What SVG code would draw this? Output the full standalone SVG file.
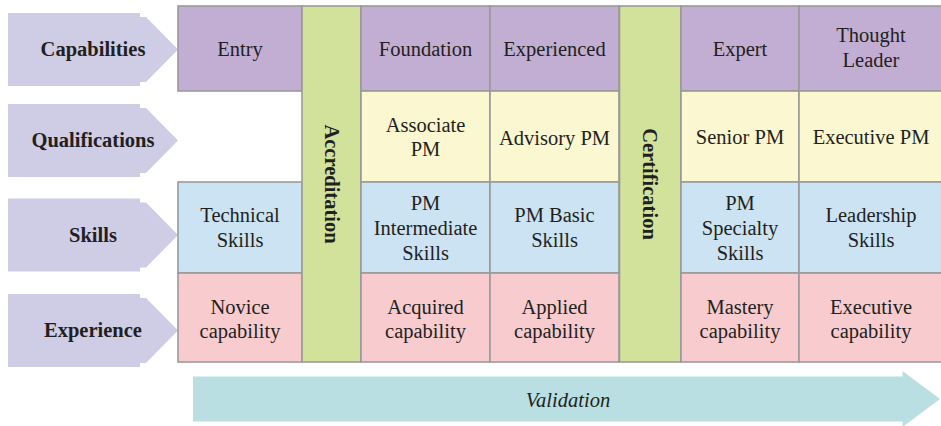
<svg xmlns="http://www.w3.org/2000/svg" width="941" height="426" viewBox="0 0 941 426">
<style>
.t{font-family:'Liberation Serif',Tinos,'Times New Roman',Times,'DejaVu Serif',serif;font-size:20.5px;fill:#231f20;text-anchor:middle}
.b{font-weight:bold}
.i{font-style:italic}
.cell{stroke:#9a9a9a;stroke-width:1.6}
.cap{fill:#c2aed3}
.qua{fill:#faf7d1}
.ski{fill:#cce3f3}
.exp{fill:#f8cccf}
.grn{fill:#d2e29b;stroke:#9a9a9a;stroke-width:1.6}
.arr{fill:#cfcce6}
</style>
<rect width="941" height="426" fill="#ffffff"/>
<defs>
<polygon id="la" points="0,0 132,0 132,4 138,4 170,36.5 138,69 132,69 132,73 0,73"/>
</defs>
<g id="row-labels">
<g id="label-capabilities"><use href="#la" x="8" y="13" class="arr"/><text class="t b" x="93" y="56">Capabilities</text></g>
<g id="label-qualifications"><use href="#la" x="8" y="104" class="arr"/><text class="t b" x="93" y="147">Qualifications</text></g>
<g id="label-skills"><use href="#la" x="8" y="198.5" class="arr"/><text class="t b" x="93" y="242">Skills</text></g>
<g id="label-experience"><use href="#la" x="8" y="294" class="arr"/><text class="t b" x="93" y="337">Experience</text></g>
</g>
<g id="col-entry">
<rect class="cell cap" x="178" y="6" width="124" height="85"/>
<text class="t" x="240" y="56">Entry</text>
<rect class="cell ski" x="178" y="182" width="124" height="91"/>
<text class="t" x="240" y="222">Technical</text><text class="t" x="240" y="247">Skills</text>
<rect class="cell exp" x="178" y="273" width="124" height="89"/>
<text class="t" x="240" y="313.5">Novice</text><text class="t" x="240" y="338">capability</text>
</g>
<g id="accreditation">
<rect class="grn" x="302" y="6" width="59" height="356"/>
<text class="t b" transform="translate(324.5,184) rotate(90)">Accreditation</text>
</g>
<g id="col-foundation">
<rect class="cell cap" x="361" y="6" width="129" height="85"/>
<text class="t" x="425.5" y="56">Foundation</text>
<rect class="cell qua" x="361" y="91" width="129" height="91"/>
<text class="t" x="425.5" y="132">Associate</text><text class="t" x="425.5" y="156">PM</text>
<rect class="cell ski" x="361" y="182" width="129" height="91"/>
<text class="t" x="425.5" y="210">PM</text><text class="t" x="425.5" y="235">Intermediate</text><text class="t" x="425.5" y="260">Skills</text>
<rect class="cell exp" x="361" y="273" width="129" height="89"/>
<text class="t" x="425.5" y="313.5">Acquired</text><text class="t" x="425.5" y="338">capability</text>
</g>
<g id="col-experienced">
<rect class="cell cap" x="490" y="6" width="129" height="85"/>
<text class="t" x="554.5" y="56">Experienced</text>
<rect class="cell qua" x="490" y="91" width="129" height="91"/>
<text class="t" x="554.5" y="144.5">Advisory PM</text>
<rect class="cell ski" x="490" y="182" width="129" height="91"/>
<text class="t" x="554.5" y="222">PM Basic</text><text class="t" x="554.5" y="247">Skills</text>
<rect class="cell exp" x="490" y="273" width="129" height="89"/>
<text class="t" x="554.5" y="313.5">Applied</text><text class="t" x="554.5" y="338">capability</text>
</g>
<g id="certification">
<rect class="grn" x="619.5" y="6" width="61.5" height="356"/>
<text class="t b" transform="translate(643,184) rotate(90)">Certification</text>
</g>
<g id="col-expert">
<rect class="cell cap" x="681" y="6" width="118" height="85"/>
<text class="t" x="740" y="56">Expert</text>
<rect class="cell qua" x="681" y="91" width="118" height="91"/>
<text class="t" x="740" y="144">Senior PM</text>
<rect class="cell ski" x="681" y="182" width="118" height="91"/>
<text class="t" x="740" y="210">PM</text><text class="t" x="740" y="235">Specialty</text><text class="t" x="740" y="260">Skills</text>
<rect class="cell exp" x="681" y="273" width="118" height="89"/>
<text class="t" x="740" y="313.5">Mastery</text><text class="t" x="740" y="338">capability</text>
</g>
<g id="col-thought-leader">
<rect class="cell cap" x="799" y="6" width="146" height="85"/>
<text class="t" x="871" y="42">Thought</text><text class="t" x="871" y="67">Leader</text>
<rect class="cell qua" x="799" y="91" width="146" height="91"/>
<text class="t" x="871" y="144">Executive PM</text>
<rect class="cell ski" x="799" y="182" width="146" height="91"/>
<text class="t" x="871" y="222">Leadership</text><text class="t" x="871" y="247">Skills</text>
<rect class="cell exp" x="799" y="273" width="146" height="89"/>
<text class="t" x="871" y="313.5">Executive</text><text class="t" x="871" y="338">capability</text>
</g>
<g id="validation">
<polygon fill="#b9dfe2" points="193,376.5 902.5,376.5 902.5,371 940,399 902.5,427 902.5,421.5 193,421.5"/>
<text class="t i" x="568" y="406.5">Validation</text>
</g>
<g id="connectors"/>
</svg>
